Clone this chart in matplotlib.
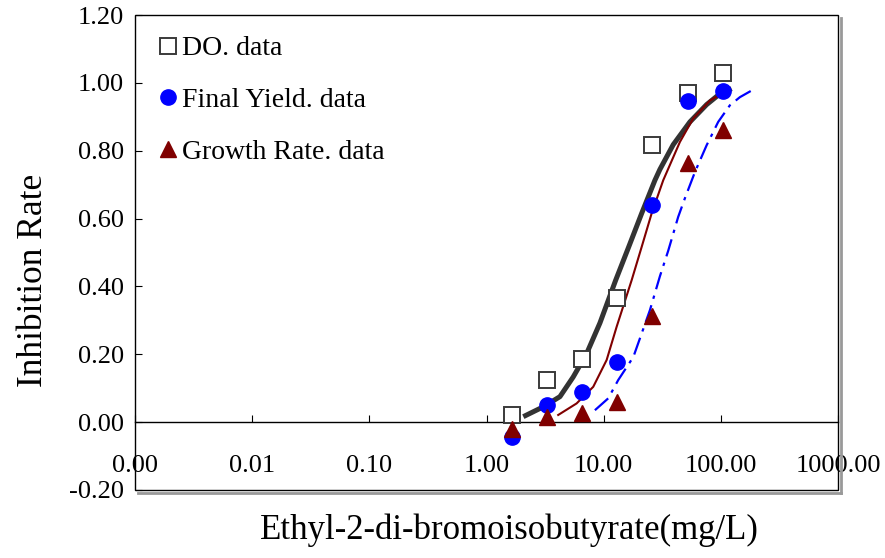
import matplotlib.pyplot as plt
from matplotlib.lines import Line2D

plt.rcParams['font.family'] = ['Liberation Serif', 'DejaVu Serif']

# measured concentrations (mg/L)
conc = [1.64, 3.26, 6.47, 12.9, 25.9, 52.0, 104.0]
do_data = [0.020, 0.125, 0.186, 0.367, 0.816, 0.971, 1.029]
yield_data = [-0.043, 0.050, 0.089, 0.176, 0.639, 0.946, 0.975]
growth_data = [-0.019, 0.016, 0.027, 0.060, 0.312, 0.764, 0.862]

# fitted curves
do_fit_x = [2.06, 3.05, 4.23, 5.49, 7.15, 9.28, 12.64, 16.32, 21.06, 27.35,
            30.17, 39.2, 54.4, 75.5, 98.1, 123.4]
do_fit_y = [0.016, 0.045, 0.075, 0.133, 0.202, 0.292, 0.418, 0.516, 0.615, 0.713,
            0.745, 0.818, 0.885, 0.936, 0.968, 0.983]
yield_fit_x = [4.09, 5.87, 8.14, 10.59, 12.89, 17.30, 21.06, 25.63, 32.2, 44.7,
               58.0, 80.5, 101.4]
yield_fit_y = [0.021, 0.055, 0.104, 0.183, 0.281, 0.418, 0.516, 0.615, 0.713, 0.826,
               0.895, 0.948, 0.968]
growth_fit_x = [8.41, 10.93, 13.30, 17.9, 24.79, 30.17, 35.5, 43.2, 49.3, 60.0,
                75.5, 94.8, 119.3, 145.3, 195]
growth_fit_y = [0.035, 0.070, 0.124, 0.192, 0.330, 0.430, 0.505, 0.605, 0.660, 0.737,
                0.816, 0.885, 0.934, 0.958, 0.983]

xticks = [0.001, 0.01, 0.1, 1, 10, 100, 1000]
xlabels = ['0.00', '0.01', '0.10', '1.00', '10.00', '100.00', '1000.00']
yticks = [-0.2, 0.0, 0.2, 0.4, 0.6, 0.8, 1.0, 1.2]

fig = plt.figure(figsize=(8.85, 5.58), dpi=100)
ax = fig.add_axes([0.1525, 0.122, 0.7945, 0.851])

ax.plot(do_fit_x, do_fit_y, color='#333333', lw=3.6, solid_capstyle='butt',
        solid_joinstyle='round', zorder=2)
ax.plot(yield_fit_x, yield_fit_y, color='#800000', lw=1.5, solid_joinstyle='round', zorder=2)
ax.plot(growth_fit_x, growth_fit_y, color='#0000ff', lw=1.6, dashes=(8, 3, 1.5, 3), zorder=2)

ax.plot(conc, do_data, 's', ms=11, mfc='white', mec='#3a3a3a', mew=1.4, zorder=3)
ax.plot(conc, yield_data, 'o', ms=11, color='#0000ff', zorder=4)
ax.plot(conc, growth_data, '^', ms=11, color='#800000', zorder=5)

ax.set_xscale('log')
ax.set_xlim(0.001, 1000)
ax.set_ylim(-0.2, 1.2)
ax.set_xticks(xticks)
ax.set_xticklabels(xlabels)
ax.minorticks_off()
ax.set_yticks(yticks)
ax.set_yticklabels(['%.2f' % v for v in yticks])

for s in ['top', 'right', 'left']:
    ax.spines[s].set_visible(False)
ax.spines['bottom'].set_position(('data', 0))
ax.spines['bottom'].set_linewidth(1.0)
ax.tick_params(axis='x', direction='in', length=5, pad=24, labelsize=19)
ax.tick_params(axis='y', direction='in', length=5, pad=8, labelsize=19)

# box frame with a grey shadow
ax.add_patch(plt.Rectangle((0, 0), 1, 1, transform=ax.transAxes, fill=False,
                           ec='black', lw=1.0, clip_on=False, zorder=6))
ax.plot([1.004, 1.004], [-0.006, 0.994], transform=ax.transAxes, color='#999999',
        lw=2, clip_on=False)
ax.plot([0.004, 1.004], [-0.006, -0.006], transform=ax.transAxes, color='#999999',
        lw=2, clip_on=False)

ax.set_ylabel('Inhibition Rate', fontsize=25.5)
ax.yaxis.set_label_coords(-0.121, 0.442)
ax.set_xlabel('Ethyl-2-di-bromoisobutyrate(mg/L)', fontsize=25)
ax.xaxis.set_label_coords(0.533, -0.049)

handles = [
    Line2D([], [], ls='none', marker='s', ms=11, mfc='white', mec='#3a3a3a', mew=1.4),
    Line2D([], [], ls='none', marker='o', ms=11, color='#0000ff'),
    Line2D([], [], ls='none', marker='^', ms=11, color='#800000'),
]
ax.legend(handles, ['DO. data', 'Final Yield. data', 'Growth Rate. data'],
          loc='upper left', bbox_to_anchor=(0.0, 1.009), frameon=False,
          fontsize=20, handlelength=0.6, handletextpad=0.2, labelspacing=0.95)

fig.savefig('out.png', dpi=100)
